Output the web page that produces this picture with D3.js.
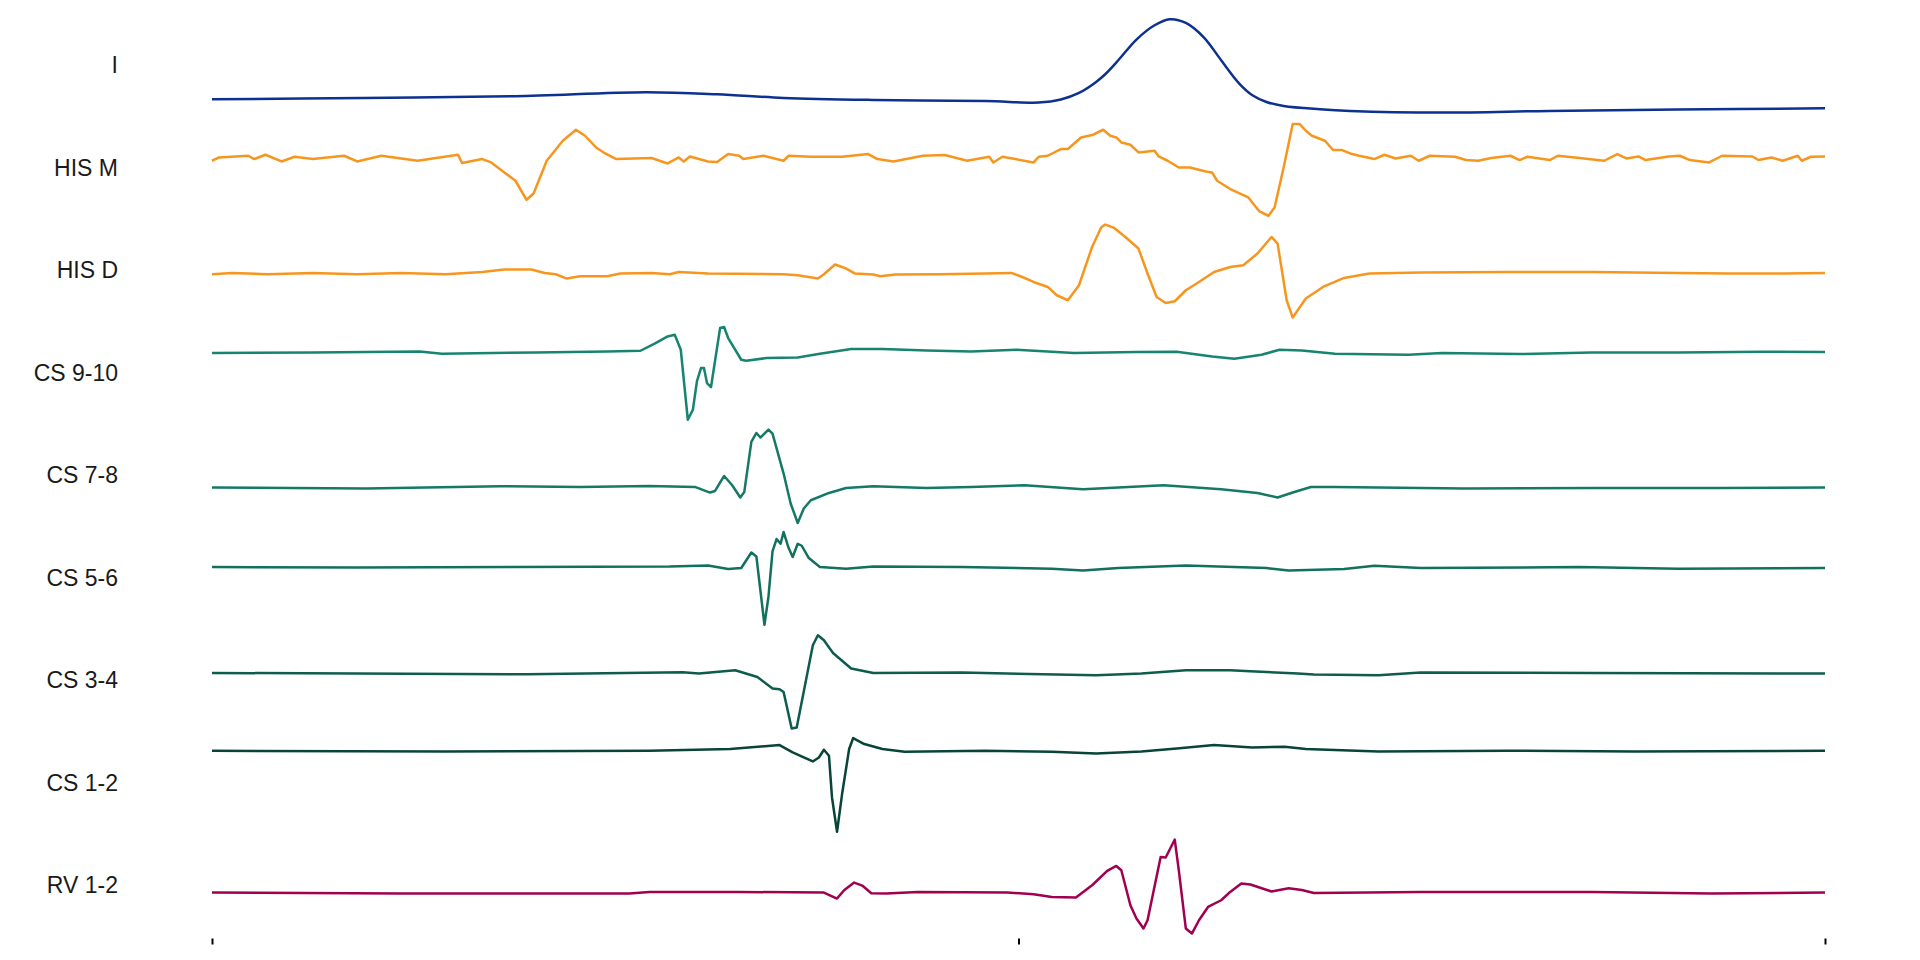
<!DOCTYPE html>
<meta charset="utf-8">
<svg width="1920" height="960"></svg>
<script src="https://d3js.org/d3.v7.min.js"></script>
<style>
	body { margin: 0; background: #fff; }
	.label { font-family: "Liberation Sans", Arial, sans-serif; font-size: 23px; fill: #1a1a1a; }
	.trace { fill: none; stroke-width: 2.5px; stroke-linejoin: round; }
</style>
<script>
	// channel names, top to bottom
	var channels = ["I", "HIS M", "HIS D", "CS 9-10", "CS 7-8", "CS 5-6", "CS 3-4", "CS 1-2", "RV 1-2"]
	var colors = ["#0d3190", "#f7961f", "#f7961f", "#17846f", "#157966", "#12705e", "#0d5c4d", "#084538", "#a0004f"]
	var timeTicks = [0, 800, 1600]

	// [time (ms), amplitude] per channel
	var traceI = [[0,-3.2],[150,-3.07],[300,-2.9],[430,-2.5],[501,-2.7],[567,-3.07],[656,-3.27],[767,-3.37],[820,-3.53],[842,-3.23],[860,-2.57],[877,-1.47],[886,-0.7],[899,0.7],[917,2.77],[935,4.2],[950,4.8],[966,4.43],[984,2.97],[1001,0.7],[1019,-1.63],[1032,-2.8],[1046,-3.47],[1063,-3.87],[1099,-4.2],[1129,-4.37],[1220,-4.53],[1326,-4.37],[1453,-4.23],[1600,-4.1]]

	var hisM = [[0,0.9],[7,1.23],[36,1.4],[42,1.07],[53,1.5],[69,0.83],[82,1.3],[100,1.07],[131,1.4],[144,0.83],[168,1.4],[204,0.9],[244,1.5],[248,0.67],[268,1.07],[277,0.73],[290,-0.27],[301,-1.1],[312,-3.0],[319,-2.37],[332,0.9],[348,2.9],[361,4.0],[370,3.4],[381,2.23],[390,1.63],[401,1.07],[436,1.17],[452,0.63],[463,1.23],[468,0.83],[474,1.33],[492,0.83],[501,0.77],[512,1.57],[523,1.4],[527,1.07],[547,1.4],[567,0.9],[572,1.4],[594,1.3],[625,1.3],[651,1.57],[660,1.07],[676,0.83],[705,1.4],[727,1.47],[749,0.9],[771,1.3],[775,0.73],[784,1.3],[815,0.73],[820,1.3],[829,1.4],[842,2.07],[849,2.07],[862,3.23],[873,3.47],[884,4.0],[891,3.4],[897,3.23],[902,2.73],[911,2.5],[919,1.73],[935,1.9],[939,1.33],[948,0.9],[959,0.23],[970,0.23],[986,-0.17],[992,-0.27],[997,-1.1],[1010,-1.93],[1028,-2.77],[1039,-4.17],[1048,-4.6],[1054,-3.77],[1063,0.23],[1072,4.57],[1079,4.57],[1085,3.9],[1091,3.4],[1104,2.9],[1112,1.97],[1121,1.97],[1129,1.63],[1138,1.4],[1153,1.07],[1163,1.5],[1174,1.13],[1189,1.4],[1197,0.9],[1208,1.4],[1233,1.3],[1244,0.97],[1256,0.9],[1269,1.17],[1288,1.4],[1297,0.97],[1305,1.3],[1327,0.97],[1335,1.4],[1352,1.23],[1381,0.9],[1394,1.57],[1403,1.13],[1415,1.33],[1422,0.97],[1445,1.33],[1456,1.4],[1466,0.97],[1485,0.73],[1498,1.4],[1528,1.33],[1534,0.97],[1547,1.23],[1558,0.9],[1573,1.4],[1577,0.9],[1586,1.3],[1600,1.33]]

	var hisD = [[0,-0.2],[20,-0.07],[55,-0.2],[100,-0.07],[144,-0.2],[188,-0.07],[232,-0.2],[268,0.03],[290,0.27],[317,0.27],[330,-0.07],[341,-0.2],[352,-0.63],[365,-0.4],[392,-0.4],[405,-0.13],[436,-0.07],[454,-0.2],[463,0.03],[492,-0.13],[567,-0.2],[581,-0.3],[601,-0.63],[607,-0.2],[618,0.77],[629,0.37],[638,-0.13],[656,-0.23],[663,-0.4],[678,-0.23],[722,-0.2],[767,-0.13],[793,-0.07],[802,-0.4],[815,-0.97],[829,-1.47],[838,-2.3],[849,-2.8],[860,-1.3],[873,2.53],[882,4.47],[886,4.77],[895,4.43],[906,3.53],[919,2.37],[928,-0.13],[937,-2.47],[946,-3.07],[955,-2.9],[966,-1.8],[979,-0.97],[994,0.03],[1010,0.53],[1023,0.7],[1037,1.87],[1051,3.53],[1057,2.87],[1066,-2.8],[1072,-4.53],[1085,-2.63],[1102,-1.47],[1123,-0.57],[1148,-0.13],[1199,-0.03],[1284,0.03],[1369,0.03],[1454,-0.07],[1505,-0.13],[1560,-0.13],[1600,-0.07]]

	var cs910 = [[0,2.17],[100,2.23],[206,2.33],[228,2.1],[321,2.23],[392,2.33],[425,2.4],[440,3.17],[452,3.83],[459,4.0],[465,2.5],[472,-4.5],[477,-3.5],[481,-0.67],[485,0.67],[488,0.67],[491,-0.83],[495,-1.23],[504,4.67],[508,4.77],[512,3.67],[525,1.5],[530,1.4],[550,1.67],[581,1.73],[603,2.1],[634,2.57],[665,2.57],[709,2.43],[753,2.33],[798,2.5],[855,2.17],[917,2.27],[957,2.3],[992,1.83],[1014,1.6],[1041,2.0],[1059,2.5],[1081,2.43],[1114,2.1],[1187,2.0],[1220,2.17],[1297,2.07],[1369,2.23],[1454,2.23],[1538,2.3],[1600,2.27]]

	var cs78 = [[0,-1.03],[153,-1.13],[286,-0.9],[365,-0.97],[434,-0.87],[479,-0.97],[494,-1.53],[499,-1.37],[508,0.13],[516,-0.8],[524,-2.03],[528,-1.47],[535,3.53],[540,4.43],[544,3.97],[552,4.77],[556,4.37],[567,0.37],[574,-2.63],[581,-4.57],[587,-3.13],[594,-2.3],[612,-1.57],[629,-1.07],[656,-0.9],[709,-1.07],[753,-0.97],[806,-0.8],[864,-1.2],[944,-0.8],[1001,-1.2],[1037,-1.57],[1057,-2.03],[1072,-1.53],[1090,-0.97],[1114,-0.97],[1242,-1.13],[1369,-1.07],[1496,-1.07],[1600,-1.03]]

	var cs56 = [[0,1.27],[144,1.23],[300,1.27],[454,1.33],[492,1.43],[512,1.07],[525,1.17],[535,2.73],[540,2.33],[548,-4.5],[552,-1.67],[556,2.83],[560,4.07],[564,3.6],[567,4.77],[572,3.17],[576,2.27],[581,3.6],[585,3.4],[592,2.17],[603,1.27],[629,1.1],[656,1.33],[744,1.27],[833,1.1],[864,0.93],[899,1.17],[966,1.43],[1046,1.17],[1068,0.93],[1123,1.07],[1153,1.4],[1199,1.17],[1356,1.27],[1454,1.1],[1600,1.17]]

	var cs34 = [[0,0.93],[312,0.8],[467,1.0],[483,0.87],[519,1.2],[541,0.53],[556,-0.63],[563,-0.7],[567,-0.97],[575,-4.63],[580,-4.53],[596,3.7],[601,4.7],[607,4.2],[616,2.93],[634,1.37],[656,0.93],[744,0.97],[877,0.7],[922,0.87],[966,1.2],[1010,1.2],[1030,1.1],[1077,0.87],[1093,0.77],[1157,0.7],[1199,0.97],[1369,0.93],[1600,0.87]]

	var cs12 = [[0,3.4],[232,3.33],[434,3.4],[514,3.57],[563,3.97],[576,3.23],[587,2.73],[596,2.33],[602,2.73],[607,3.5],[612,2.9],[615,-1.27],[620,-4.7],[625,-0.93],[632,3.57],[636,4.67],[647,4.07],[665,3.57],[687,3.3],[767,3.4],[833,3.3],[877,3.13],[922,3.33],[957,3.63],[994,3.97],[1032,3.73],[1064,3.8],[1085,3.57],[1157,3.33],[1284,3.4],[1411,3.33],[1600,3.4]]

	var rv12 = [[0,-0.53],[188,-0.63],[414,-0.63],[434,-0.47],[523,-0.47],[607,-0.53],[620,-1.13],[627,-0.3],[637,0.47],[645,0.17],[654,-0.6],[669,-0.63],[700,-0.47],[789,-0.53],[815,-0.7],[833,-0.97],[857,-1.03],[873,0.2],[888,1.63],[897,2.13],[902,1.7],[911,-1.8],[917,-3.13],[924,-4.13],[928,-3.3],[941,3.03],[946,2.97],[955,4.77],[959,1.7],[966,-4.13],[972,-4.63],[979,-3.3],[988,-1.97],[1001,-1.3],[1010,-0.47],[1021,0.37],[1030,0.27],[1051,-0.43],[1068,-0.1],[1081,-0.27],[1093,-0.57],[1199,-0.47],[1369,-0.47],[1487,-0.63],[1600,-0.53]]

	var traces = [traceI, hisM, hisD, cs910, cs78, cs56, cs34, cs12, rv12]

	var svg = d3.select("svg")

	var x = d3.scaleLinear().domain([0, 1600]).range([212, 1825]),
		y = d3.scaleBand().domain(channels).range([16, 938.5]),
		amp = d3.scaleLinear().domain([-5, 5]).range([50, -50])

	// channel names on the left
	svg.append("g")
		.selectAll("text")
		.data(channels)
		.enter().append("text")
		.attr("class", "label")
		.attr("x", 118)
		.attr("y", d => y(d) + y.bandwidth() / 2)
		.attr("text-anchor", "end")
		.attr("dominant-baseline", "middle")
		.text(d => d)

	// one line per channel, offset into its band
	traces.forEach(function (tr, i) {
		var mid = y(channels[i]) + y.bandwidth() / 2
		var line = d3.line()
			.x(d => x(d[0]))
			.y(d => mid + amp(d[1]))
			.curve(i == 0 ? d3.curveCatmullRom : d3.curveLinear)
		svg.append("path")
			.attr("class", "trace")
			.attr("stroke", colors[i])
			.attr("d", line(tr))
	})

	// time axis: ticks only
	var xAxis = d3.axisBottom(x).tickValues(timeTicks).tickSize(6).tickFormat("")
	var ax = svg.append("g")
		.attr("transform", "translate(0,938.5)")
		.call(xAxis)
	ax.select(".domain").remove()
	ax.selectAll(".tick line").attr("stroke", "#000").attr("stroke-width", 2)
</script>
